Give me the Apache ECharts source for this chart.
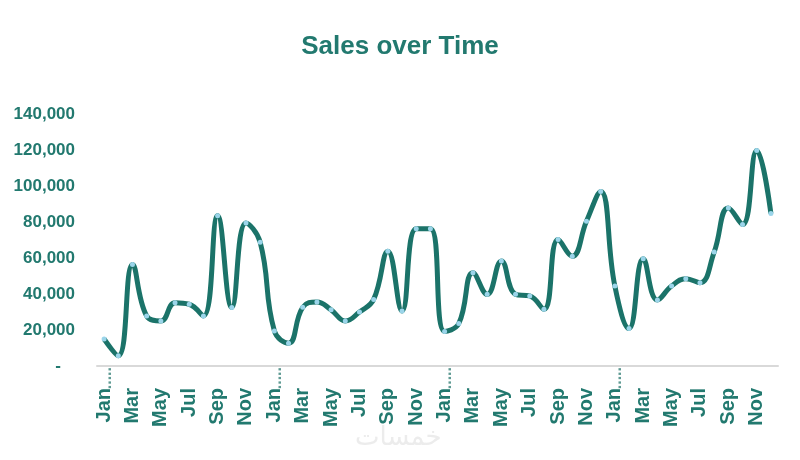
<!DOCTYPE html>
<html>
<head>
<meta charset="utf-8">
<script src="https://cdn.jsdelivr.net/npm/echarts@6/dist/echarts.min.js"></script>
<style>html,body{margin:0;padding:0;background:#fff}#c{width:800px;height:460px}</style>
</head>
<body>
<div id="c"></div>
<script>
const months = ['Jan','Feb','Mar','Apr','May','Jun','Jul','Aug','Sep','Oct','Nov','Dec'];
const categories = [].concat(months, months, months, months);
const year1 = [15000, 5700, 56400, 27800, 25000, 35200, 34300, 27800, 83500, 32500, 79500, 68800];
const year2 = [19500, 12700, 32600, 35600, 31200, 25000, 30000, 37000, 63800, 30600, 76200, 76200];
const year3 = [19200, 23600, 51800, 39800, 58300, 39800, 38900, 31500, 70300, 61000, 80400, 97000];
const year4 = [44400, 20800, 59600, 36700, 44400, 48500, 46300, 63300, 87800, 78600, 119700, 84700];
const sales = [].concat(year1, year2, year3, year4);
const yTicks = [0, 20000, 40000, 60000, 80000, 100000, 120000, 140000];

const teal = '#22796f';
const font = '"Liberation Sans", Arial, sans-serif';
const chart = echarts.init(document.getElementById('c'));
chart.setOption({
  animation: false,
  backgroundColor: '#ffffff',
  title: {
    text: 'Sales over Time',
    left: 'center',
    top: 29,
    textStyle: { fontFamily: font, fontWeight: 'bold', fontSize: 26, color: teal }
  },
  graphic: [{
    type: 'text',
    left: 355,
    top: 425,
    style: { text: 'خمسات', font: '26px "DejaVu Sans", sans-serif', fill: '#ececec' }
  }],
  grid: { left: 97, right: 22, top: 114, bottom: 94, containLabel: false },
  xAxis: {
    type: 'category',
    data: categories,
    boundaryGap: true,
    axisLine: { lineStyle: { color: '#d9d9d9', width: 2 } },
    axisTick: { show: false },
    axisLabel: {
      interval: 1,
      rotate: 90,
      margin: 1,
      fontFamily: font,
      fontWeight: 'bold',
      fontSize: 20,
      color: teal,
      formatter: function (v, i) {
        return i % 12 === 0 ? '{t|' + v + '}{d|.....}' : '{t|' + v + '}{p| }';
      },
      rich: {
        t: { fontFamily: font, fontWeight: 'bold', fontSize: 20, color: teal },
        d: { fontFamily: font, fontSize: 16, color: '#5f9a93', width: 21, align: 'right', verticalAlign: 'bottom' },
        p: { fontSize: 16, width: 21 }
      }
    },
    splitLine: { show: false }
  },
  yAxis: {
    type: 'value',
    min: yTicks[0],
    max: yTicks[yTicks.length - 1],
    interval: yTicks[1] - yTicks[0],
    axisLine: { show: false },
    axisTick: { show: false },
    splitLine: { show: false },
    axisLabel: {
      margin: 22,
      fontFamily: font,
      fontWeight: 'bold',
      fontSize: 17,
      color: teal,
      formatter: function (v) { return v === 0 ? '-   ' : v.toLocaleString('en-US'); }
    }
  },
  series: [{
    type: 'line',
    data: sales,
    smooth: 0.45,
    lineStyle: { color: '#1b7369', width: 5 },
    itemStyle: { color: '#9bd5ea' },
    symbol: 'circle',
    symbolSize: 5,
    showSymbol: true,
    z: 3
  }]
});
</script>
</body>
</html>
